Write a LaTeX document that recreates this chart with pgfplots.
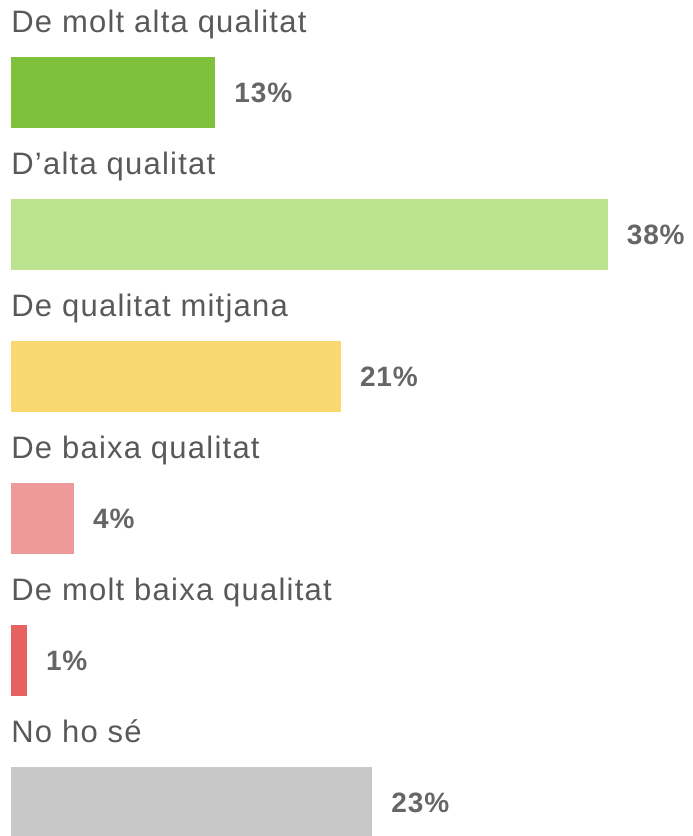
\documentclass[border=0pt]{standalone}
\usepackage{fontspec}
\setmainfont{Liberation Sans}
\newfontfamily\labfont[LetterSpace=4]{Liberation Sans}
\newfontfamily\valfont[LetterSpace=3]{Liberation Sans}
\usepackage{pgfplots}
\pgfplotsset{compat=1.18}
\definecolor{c1}{HTML}{80C13C}
\definecolor{c2}{HTML}{BCE38F}
\definecolor{c3}{HTML}{F9D872}
\definecolor{c4}{HTML}{EF9A9A}
\definecolor{c5}{HTML}{E86161}
\definecolor{c6}{HTML}{C8C8C8}
\definecolor{labgray}{HTML}{595959}
\definecolor{valgray}{HTML}{666666}
\begin{document}
\begin{tikzpicture}
\begin{axis}[
  name=ax,
  scale only axis,
  width=346pt, height=418pt,
  xmin=-0.70, xmax=43.38,
  ymin=-0.651, ymax=5.236,
  y dir=reverse,
  hide axis,
  xbar, bar width=0.5, bar shift=0pt,
  clip=true,
  /pgf/number format/assume math mode=true,
  nodes near coords={\pgfmathprintnumber{\pgfplotspointmeta}\%},
  nodes near coords style={font=\valfont\fontsize{14pt}{16pt}\selectfont\bfseries, text=valgray, anchor=west, xshift=9.5pt, inner sep=0pt},
]
\addplot[fill=c1, draw=none] coordinates {(13,0)};
\addplot[fill=c2, draw=none] coordinates {(38,1)};
\addplot[fill=c3, draw=none] coordinates {(21,2)};
\addplot[fill=c4, draw=none] coordinates {(4,3)};
\addplot[fill=c5, draw=none] coordinates {(1,4)};
\addplot[fill=c6, draw=none] coordinates {(23,5)};
\foreach \i/\t in {0/De molt alta qualitat, 1/D’alta qualitat, 2/De qualitat mitjana, 3/De baixa qualitat, 4/De molt baixa qualitat, 5/No ho sé} {
  \edef\temp{\noexpand\node[anchor=base west, inner sep=0pt, text=labgray, font=\noexpand\labfont\noexpand\fontsize{15.5pt}{17pt}\noexpand\selectfont, yshift=29.75pt] at (axis cs:0,\i) {\t};}
  \temp
}
\end{axis}
\pgfresetboundingbox
\path[use as bounding box] (ax.south west) rectangle (ax.north east);
\end{tikzpicture}
\end{document}
